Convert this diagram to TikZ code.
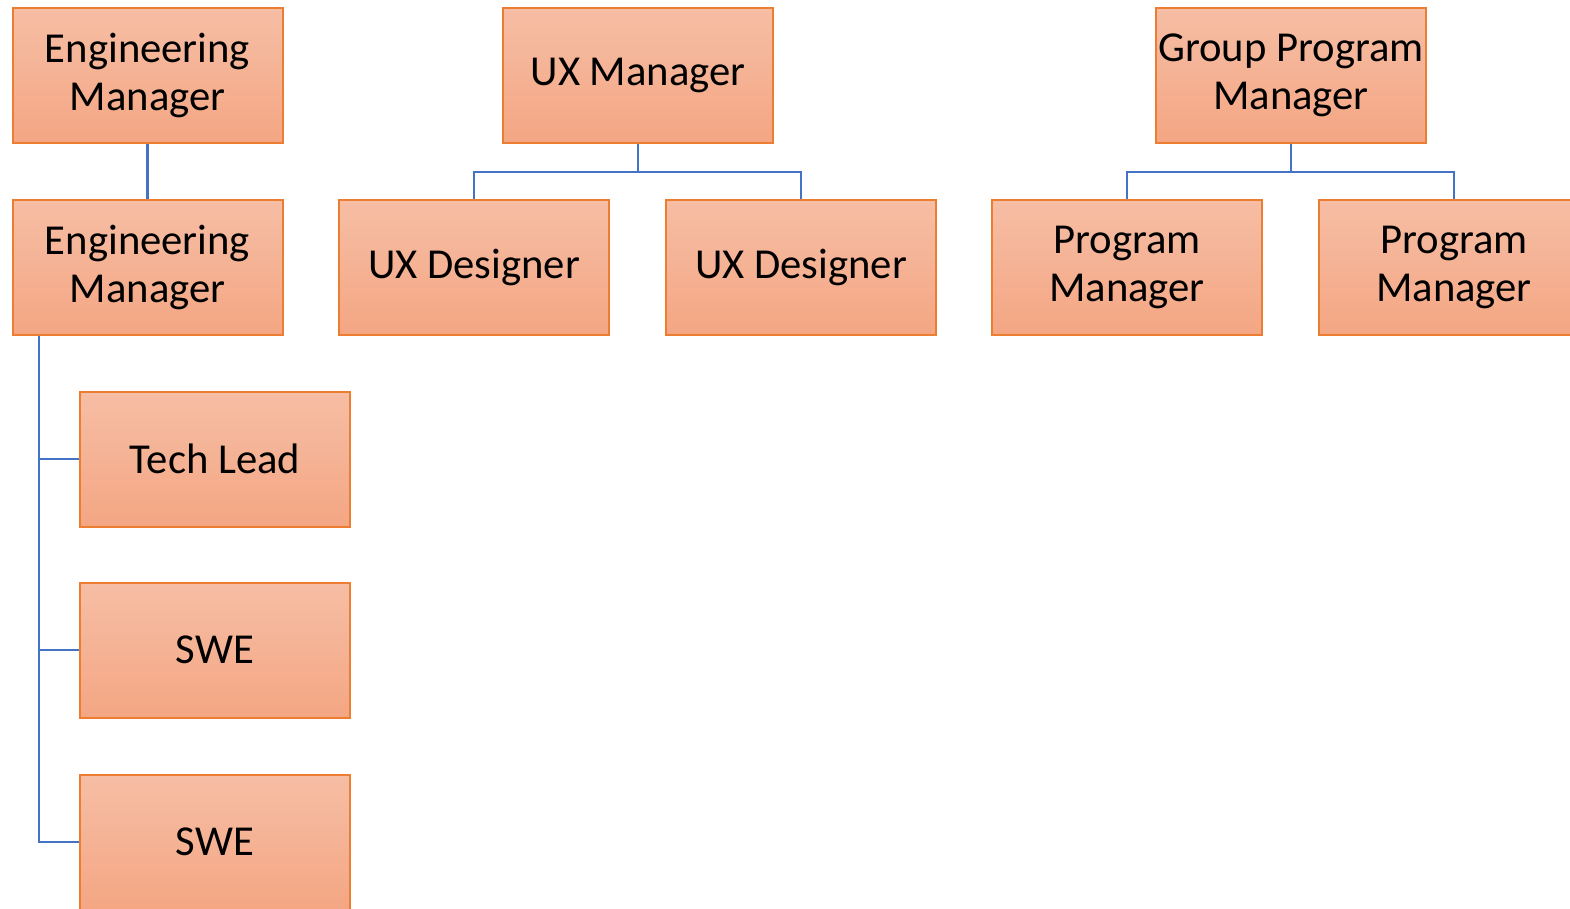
\documentclass[tikz,border=0pt]{standalone}
\usepackage{fontspec}
\setmainfont{Carlito}
\definecolor{boxtop}{HTML}{F6BEA5}
\definecolor{boxbot}{HTML}{F4A683}
\definecolor{boxline}{HTML}{ED7D31}
\definecolor{conn}{HTML}{4472C4}
\tikzset{
  orgbox/.style={rectangle, draw=boxline, line width=1.5pt, top color=boxtop, bottom color=boxbot,
    minimum width=202.5pt, minimum height=101.25pt, inner sep=0pt, align=center,
    font=\fontsize{32}{36}\selectfont},
  link/.style={draw=conn, line width=2.2pt}
}
\begin{document}
\begin{tikzpicture}[x=0.75pt,y=-0.75pt]
\clip (0,0) rectangle (1570,908);
\fill[white] (0,0) rectangle (1570,908);
\node[orgbox] (em1) at (147.5,75.5) {Engineering\\Manager};
\node[orgbox] (em2) at (147.5,267) {Engineering\\Manager};
\node[orgbox] (uxm) at (638,75.5) {UX Manager};
\node[orgbox] (uxd1) at (474,267) {UX Designer};
\node[orgbox] (uxd2) at (801,267) {UX Designer};
\node[orgbox] (gpm) at (1291,75.5) {Group Program\\Manager};
\node[orgbox] (pm1) at (1127,267) {Program\\Manager};
\node[orgbox] (pm2) at (1454,267) {Program\\Manager};
\node[orgbox] (tl) at (215,459) {Tech Lead};
\node[orgbox] (swe1) at (215,650) {SWE};
\node[orgbox] (swe2) at (215,842) {SWE};
\coordinate (spine) at (39,0);
\draw[link] (em1.south) -- (em2.north);
\draw[link] (uxm.south) -- ++(0,28) -| (uxd1.north);
\draw[link] (uxm.south) -- ++(0,28) -| (uxd2.north);
\draw[link] (gpm.south) -- ++(0,28) -| (pm1.north);
\draw[link] (gpm.south) -- ++(0,28) -| (pm2.north);
\draw[link] (em2.south -| spine) |- (tl.west);
\draw[link] (em2.south -| spine) |- (swe1.west);
\draw[link] (em2.south -| spine) |- (swe2.west);
\end{tikzpicture}
\end{document}
